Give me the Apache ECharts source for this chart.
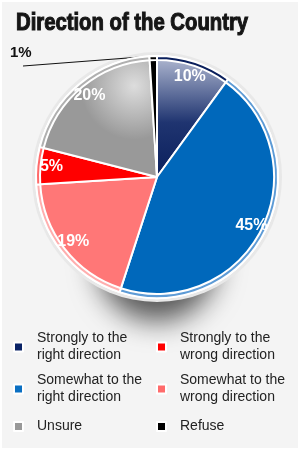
<!DOCTYPE html>
<html><head><meta charset="utf-8">
<script src="https://cdn.jsdelivr.net/npm/echarts@6/dist/echarts.min.js"></script>
<style>
html,body{margin:0;padding:0;background:#fff}
#wrap{position:relative;width:300px;height:450px}
#c{width:300px;height:450px}
#f{position:absolute;left:0;top:0;width:300px;height:450px;box-sizing:border-box;border:2px solid #fff;pointer-events:none}
</style>
</head><body><div id="wrap"><div id="c"></div><div id="f"></div></div>
<script>
const titleText = 'Direction of the Country';
const categories = ['Strongly to the right direction', 'Somewhat to the right direction', 'Somewhat to the wrong direction', 'Strongly to the wrong direction', 'Unsure', 'Refuse'];
const values = [10, 45, 19, 5, 20, 1];
const legendRows = [[0, 3], [1, 2], [4, 5]];

const colors = ['#0a1f5c', '#0068bb', '#ff7777', '#ff0000', '#999999', '#000000'];
const rimColors = ['#0a1f5c', '#5d9bd6', '#ffaeae', '#ff6a6a', '#b0b0b0', '#000000'];
const legendColors = ['#0a2366', '#0a6fc2', '#ff6b6b', '#ff0000', '#999999', '#000000'];
const legendTops = [330, 372, 418];
const center = [157, 177];
const R = 121;
const font = '"Liberation Sans", Arial, sans-serif';

function sliceColor(i) {
  if (i === 0) {
    return { type: 'linear', x: 0, y: 0, x2: 0, y2: 1, colorStops: [
      { offset: 0, color: '#b3bbd3' }, { offset: 0.55, color: '#1f3470' }, { offset: 1, color: '#0a1f5c' }] };
  }
  if (i === 4) {
    return { type: 'radial', x: 0.8, y: 0.25, r: 0.45, colorStops: [
      { offset: 0, color: '#dddddd' }, { offset: 1, color: '#999999' }] };
  }
  return colors[i];
}

const chart = echarts.init(document.getElementById('c'), null, { renderer: 'canvas' });

const mainData = categories.map((name, i) => ({
  name, value: values[i],
  itemStyle: { color: sliceColor(i) },
  label: i === 5 ? { show: true, formatter: '{c}%', color: '#111', fontSize: 15, fontWeight: 'bold', fontFamily: font } : { show: false },
  labelLine: i === 5 ? { show: true, length: 4, length2: 20, lineStyle: { color: '#111', width: 1 } } : { show: false }
}));

// where the outside "1%" label sits (text layout, not a data mark)
const outLabelX = 10, outLabelY = 53;

chart.setOption({
  backgroundColor: '#f4f4f4',
  animation: false,
  graphic: [{
    type: 'text', x: 16, y: 11, scaleX: 0.845, silent: true,
    style: {
      text: titleText, x: 0, y: 0, verticalAlign: 'top',
      font: 'bold 24px "Liberation Sans", Arial, sans-serif',
      fill: '#151515', stroke: '#151515', lineWidth: 1.1
    }
  }],
  legend: legendRows.map((row, r) => ({
    data: row.map(k => ({ name: categories[k], itemStyle: { color: legendColors[k] } })),
    left: 13, top: legendTops[r], width: 287, orient: 'horizontal', icon: 'rect',
    itemWidth: 9, itemHeight: 9, itemGap: 9, selectedMode: false, padding: 0,
    textStyle: { fontFamily: font, fontSize: 14, color: '#222', width: 110, overflow: 'break', lineHeight: 17, padding: [0, 0, 0, 9] }
  })),
  series: [
    {
      type: 'pie', silent: true, center: [center[0], center[1] + 58], radius: 60, z: 0,
      data: [{ value: 1, name: '' }],
      itemStyle: { color: '#cccccc', shadowBlur: 28, shadowColor: 'rgba(0,0,0,0.65)', shadowOffsetY: 26 },
      label: { show: false }, labelLine: { show: false }
    },
    {
      type: 'pie', silent: true, center, radius: R + 4, z: 1,
      data: [{ value: 1, name: '' }],
      itemStyle: { color: '#e8e8e8' },
      label: { show: false }, labelLine: { show: false }
    },
    {
      type: 'pie', silent: true, center, radius: [0, R], startAngle: 90, clockwise: true, z: 2,
      data: mainData,
      itemStyle: { borderColor: '#fff', borderWidth: 2 },
      labelLayout: function (p) {
        if (p.dataIndex === 5) {
          const pts = p.labelLinePoints;
          const res = { x: outLabelX, y: outLabelY, align: 'left', verticalAlign: 'middle' };
          if (pts && pts.length) res.labelLinePoints = [[outLabelX + 13, outLabelY + 13], pts[0]];
          return res;
        }
      }
    },
    {
      type: 'pie', silent: true, center, radius: [R - 4, R], startAngle: 90, clockwise: true, z: 3,
      data: categories.map((name, i) => ({ name, value: values[i], itemStyle: { color: rimColors[i] } })),
      itemStyle: { borderColor: '#fff', borderWidth: 2 },
      label: { show: false }, labelLine: { show: false }
    },
    {
      type: 'pie', silent: true, center, radius: [R - 36, R], startAngle: 90, clockwise: true, z: 4,
      data: categories.map((name, i) => ({
        name, value: values[i], itemStyle: { color: 'rgba(0,0,0,0)' },
        label: { show: i !== 5 }
      })),
      label: { position: 'inside', formatter: '{c}%', color: '#fff', fontSize: 16, fontWeight: 'bold', fontFamily: font },
      labelLine: { show: false }
    }
  ]
});
</script>
</body></html>
